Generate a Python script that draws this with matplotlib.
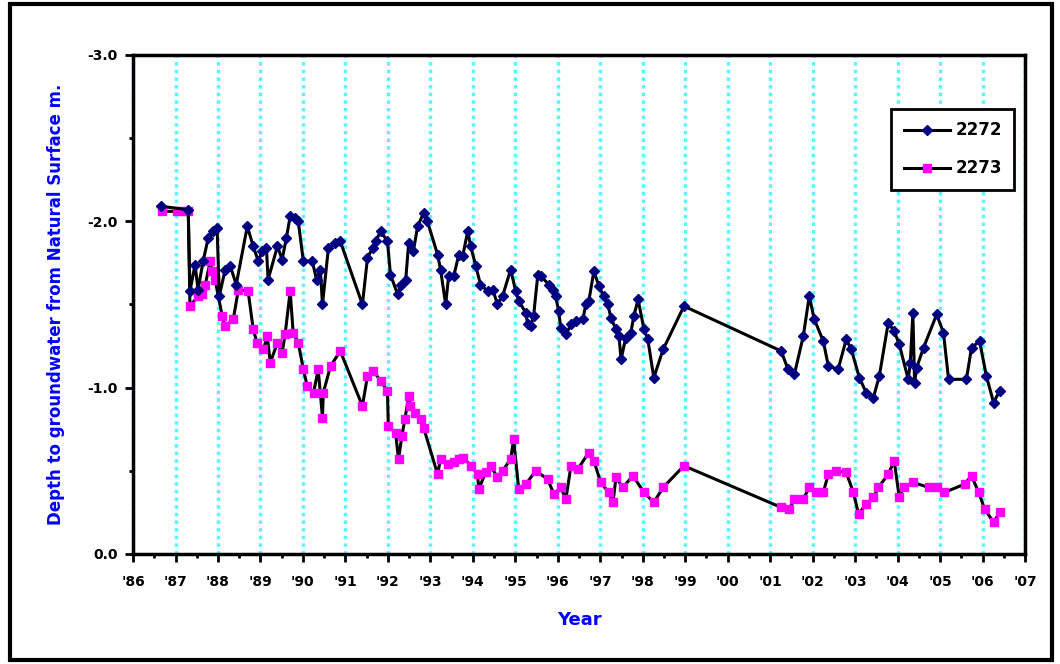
import matplotlib
matplotlib.use('Agg')
import matplotlib.pyplot as plt
from matplotlib.patches import Rectangle
from matplotlib.ticker import MultipleLocator, FixedLocator
import numpy as np

plt.rcParams['font.family'] = ['DejaVu Sans']
plt.rcParams['font.weight'] = 'bold'

# bore 2272 - decimal year, depth (m, negative below surface)
years_2272 = [1986.66, 1987.30, 1987.34, 1987.46, 1987.53, 1987.65, 1987.77, 1987.89, 1987.98,
              1988.03, 1988.17, 1988.29, 1988.43, 1988.69, 1988.83, 1988.95, 1989.04, 1989.14,
              1989.18, 1989.40, 1989.51, 1989.61, 1989.70, 1989.82, 1989.89, 1990.01, 1990.22,
              1990.32, 1990.41, 1990.46, 1990.60, 1990.76, 1990.88, 1991.40, 1991.52, 1991.64,
              1991.71, 1991.83, 1991.99, 1992.06, 1992.23, 1992.30, 1992.42, 1992.49, 1992.60,
              1992.70, 1992.84, 1992.93, 1993.17, 1993.24, 1993.36, 1993.43, 1993.55, 1993.67,
              1993.76, 1993.88, 1993.95, 1994.07, 1994.18, 1994.35, 1994.47, 1994.58, 1994.70,
              1994.89, 1995.01, 1995.08, 1995.25, 1995.29, 1995.36, 1995.43, 1995.53, 1995.60,
              1995.79, 1995.88, 1995.95, 1996.02, 1996.07, 1996.19, 1996.31, 1996.42, 1996.59,
              1996.66, 1996.73, 1996.85, 1996.97, 1997.08, 1997.18, 1997.25, 1997.37, 1997.44,
              1997.49, 1997.60, 1997.72, 1997.79, 1997.89, 1998.03, 1998.12, 1998.26, 1998.48,
              1998.97, 2001.26, 2001.42, 2001.57, 2001.78, 2001.92, 2002.04, 2002.25, 2002.37,
              2002.60, 2002.79, 2002.91, 2003.10, 2003.26, 2003.43, 2003.57, 2003.78, 2003.92,
              2004.04, 2004.25, 2004.30, 2004.36, 2004.40, 2004.45, 2004.61, 2004.92, 2005.08,
              2005.20, 2005.62, 2005.74, 2005.93, 2006.09, 2006.26, 2006.40]
depth_2272 = [-2.09, -2.07, -1.58, -1.74, -1.59, -1.76, -1.90, -1.94, -1.96,
              -1.55, -1.71, -1.73, -1.62, -1.97, -1.85, -1.76, -1.82, -1.84,
              -1.65, -1.85, -1.77, -1.90, -2.03, -2.02, -2.00, -1.76, -1.76,
              -1.65, -1.71, -1.50, -1.84, -1.87, -1.88, -1.50, -1.78, -1.84,
              -1.88, -1.94, -1.88, -1.68, -1.56, -1.62, -1.65, -1.87, -1.82,
              -1.97, -2.05, -2.00, -1.80, -1.71, -1.50, -1.67, -1.67, -1.80,
              -1.79, -1.94, -1.85, -1.73, -1.62, -1.58, -1.59, -1.50, -1.55,
              -1.71, -1.58, -1.52, -1.45, -1.38, -1.37, -1.43, -1.68, -1.67,
              -1.62, -1.59, -1.55, -1.46, -1.36, -1.32, -1.38, -1.40, -1.41,
              -1.50, -1.52, -1.70, -1.61, -1.55, -1.50, -1.42, -1.35, -1.31,
              -1.17, -1.30, -1.33, -1.43, -1.53, -1.35, -1.29, -1.06, -1.23,
              -1.49, -1.22, -1.11, -1.08, -1.31, -1.55, -1.41, -1.28, -1.13,
              -1.11, -1.29, -1.23, -1.06, -0.97, -0.94, -1.07, -1.39, -1.34,
              -1.26, -1.05, -1.15, -1.45, -1.03, -1.12, -1.24, -1.44, -1.33,
              -1.05, -1.05, -1.24, -1.28, -1.07, -0.91, -0.98]

# bore 2273
years_2273 = [1986.68, 1987.04, 1987.23, 1987.30, 1987.34, 1987.53, 1987.63, 1987.70, 1987.82,
              1987.86, 1987.93, 1988.10, 1988.17, 1988.36, 1988.48, 1988.71, 1988.83, 1988.92,
              1989.07, 1989.16, 1989.23, 1989.40, 1989.51, 1989.58, 1989.70, 1989.77, 1989.89,
              1990.01, 1990.10, 1990.25, 1990.36, 1990.46, 1990.48, 1990.65, 1990.88, 1991.40,
              1991.52, 1991.66, 1991.83, 1991.99, 1992.01, 1992.18, 1992.25, 1992.33, 1992.40,
              1992.49, 1992.53, 1992.65, 1992.77, 1992.84, 1993.17, 1993.24, 1993.41, 1993.55,
              1993.67, 1993.78, 1993.95, 1994.11, 1994.14, 1994.30, 1994.42, 1994.58, 1994.70,
              1994.89, 1994.96, 1995.08, 1995.25, 1995.48, 1995.76, 1995.91, 1996.07, 1996.19,
              1996.31, 1996.47, 1996.73, 1996.85, 1997.01, 1997.20, 1997.30, 1997.37, 1997.53,
              1997.77, 1998.03, 1998.26, 1998.48, 1998.97, 2001.26, 2001.45, 2001.57, 2001.78,
              2001.92, 2002.09, 2002.25, 2002.37, 2002.56, 2002.79, 2002.96, 2003.08, 2003.26,
              2003.43, 2003.55, 2003.78, 2003.92, 2004.04, 2004.14, 2004.37, 2004.73, 2004.92,
              2005.10, 2005.58, 2005.74, 2005.91, 2006.05, 2006.26, 2006.40]
depth_2273 = [-2.06, -2.06, -2.06, -2.06, -1.49, -1.55, -1.56, -1.62, -1.76,
              -1.70, -1.65, -1.43, -1.37, -1.41, -1.59, -1.58, -1.35, -1.27,
              -1.23, -1.31, -1.15, -1.27, -1.21, -1.32, -1.58, -1.33, -1.27,
              -1.11, -1.01, -0.97, -1.11, -0.82, -0.97, -1.13, -1.22, -0.89,
              -1.07, -1.10, -1.04, -0.98, -0.77, -0.73, -0.57, -0.71, -0.81,
              -0.95, -0.89, -0.85, -0.81, -0.76, -0.48, -0.57, -0.54, -0.55,
              -0.57, -0.58, -0.53, -0.48, -0.39, -0.49, -0.53, -0.46, -0.50,
              -0.57, -0.69, -0.39, -0.42, -0.50, -0.45, -0.36, -0.40, -0.33,
              -0.53, -0.51, -0.61, -0.56, -0.43, -0.37, -0.31, -0.46, -0.40,
              -0.47, -0.37, -0.31, -0.40, -0.53, -0.28, -0.27, -0.33, -0.33,
              -0.40, -0.37, -0.37, -0.48, -0.50, -0.49, -0.37, -0.24, -0.30,
              -0.34, -0.40, -0.48, -0.56, -0.34, -0.40, -0.43, -0.40, -0.40,
              -0.37, -0.42, -0.47, -0.37, -0.27, -0.19, -0.25]

year_ticks = list(range(1986, 2008))
year_labels = ["'%02d" % (y % 100) for y in year_ticks]

fig = plt.figure(figsize=(10.6, 6.64), dpi=100)
ax = fig.add_axes([0.1255, 0.1657, 0.8415, 0.7515])

# black frame round the whole picture
fig.patches.append(Rectangle((0.009, 0.006), 0.983, 0.988, transform=fig.transFigure,
                             fill=False, edgecolor='black', linewidth=3))

ax.plot(years_2272, depth_2272, color='black', linewidth=2.2, marker='D',
        markersize=5.5, markerfacecolor='#000080', markeredgecolor='#000080', label='2272', zorder=3)
ax.plot(years_2273, depth_2273, color='black', linewidth=2.2, marker='s',
        markersize=6, markerfacecolor='#FF00FF', markeredgecolor='#FF00FF', label='2273', zorder=2)

ax.set_xlim(1986, 2007)
ax.set_ylim(0, -3)

ax.xaxis.set_major_locator(FixedLocator(year_ticks))
ax.set_xticklabels(year_labels)
ax.xaxis.set_minor_locator(MultipleLocator(0.5))
ax.yaxis.set_major_locator(MultipleLocator(1.0))
ax.yaxis.set_minor_locator(MultipleLocator(0.5))
ax.yaxis.set_major_formatter(matplotlib.ticker.FormatStrFormatter('%.1f'))

ax.tick_params(which='major', direction='out', length=6, width=2, labelsize=10)
ax.tick_params(axis='x', which='major', pad=9)
ax.tick_params(axis='y', which='major', pad=5)
ax.tick_params(which='minor', direction='out', length=3, width=2)
for lbl in ax.get_xticklabels() + ax.get_yticklabels():
    lbl.set_fontweight('bold')

for sp in ax.spines.values():
    sp.set_linewidth(2.5)

ax.set_axisbelow(True)
ax.xaxis.grid(True, which='major', color='#5CF5FF', linewidth=2.5, linestyle=(0, (1, 1.2)))

ax.set_xlabel('Year', color='#0000FF', fontsize=13, fontweight='bold', labelpad=16)
ax.set_ylabel('Depth to groundwater from Natural Surface m.', color='#0000FF',
              fontsize=12, fontweight='bold', labelpad=16)

leg = ax.legend(loc='upper right', bbox_to_anchor=(0.988, 0.892), borderaxespad=0,
                fancybox=False, framealpha=1, edgecolor='black',
                handlelength=2.8, handletextpad=0.3, borderpad=0.75, labelspacing=1.2,
                prop={'weight': 'bold', 'size': 12})
leg.get_frame().set_linewidth(2)

fig.savefig('out.png', dpi=100)
